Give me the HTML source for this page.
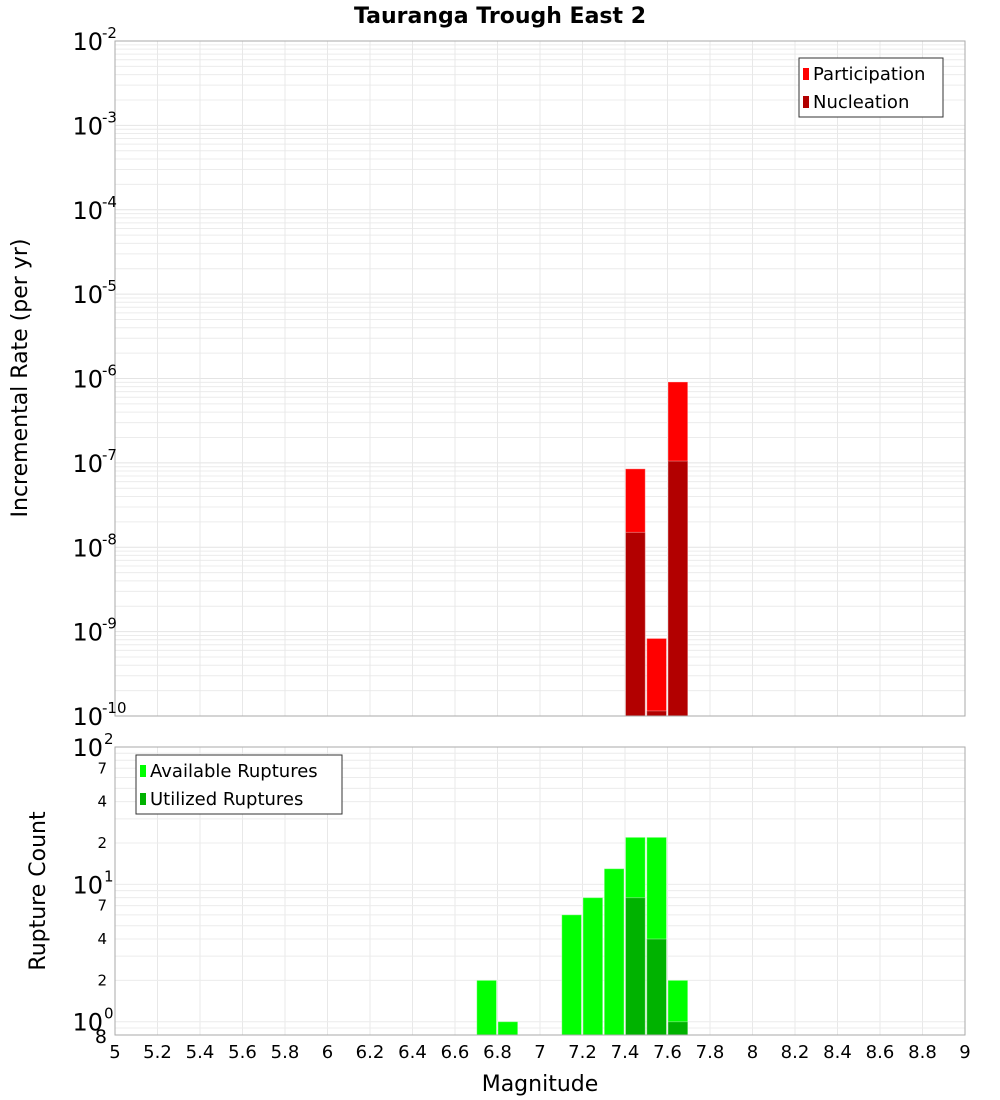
<!DOCTYPE html>
<html><head><meta charset="utf-8"><style>
html,body{margin:0;padding:0;background:#fff;}
svg{display:block;font-family:"DejaVu Sans","Liberation Sans",sans-serif;}
</style></head><body>
<svg id="c" width="1000" height="1100" xmlns="http://www.w3.org/2000/svg">
<text x="500" y="23" text-anchor="middle" font-size="22" font-weight="bold">Tauranga Trough East 2</text>
<g id="top"></g>
<g id="bot"></g>
</svg>
<script>
const mags = [7.45, 7.55, 7.65];
const participation = [8.5e-8, 8.3e-10, 9.1e-7];
const nucleation = [1.5e-8, 1.15e-10, 1.05e-7];
const countMags = [6.75, 6.85, 7.15, 7.25, 7.35, 7.45, 7.55, 7.65];
const available = [2, 1, 6, 8, 13, 22, 22, 2];
const utilMags = [7.45, 7.55, 7.65];
const utilized = [8, 4, 1];
const xTicks = [5,5.2,5.4,5.6,5.8,6,6.2,6.4,6.6,6.8,7,7.2,7.4,7.6,7.8,8,8.2,8.4,8.6,8.8,9];
const topExps = [-2,-3,-4,-5,-6,-7,-8,-9,-10];
const botMinorLabels = [[70,'7'],[40,'4'],[20,'2'],[7,'7'],[4,'4'],[2,'2']];

const NS='http://www.w3.org/2000/svg';
function mk(parent,tag,attrs,text){const e=document.createElementNS(NS,tag);for(const k in attrs)e.setAttribute(k,attrs[k]);if(text!==undefined)e.textContent=text;parent.appendChild(e);return e;}
const X0=115,X1=965;
const xs=m=>X0+(m-5)/4*(X1-X0);
const T0=41,T1=716;
const ty=v=>T1-(Math.log10(v)+10)/8*(T1-T0);
const B0=747,B1=1035;
const by=v=>B1-(Math.log10(v)-Math.log10(0.8))/(2-Math.log10(0.8))*(B1-B0);
const topG=document.getElementById('top'),botG=document.getElementById('bot');

for(let e=-10;e<-2;e++)for(let k=1;k<10;k++){const y=ty(k*Math.pow(10,e));const l=mk(topG,'line',{x1:X0,x2:X1,y1:y,y2:y,stroke:k==1?'#e4e4e4':'#ececec','stroke-width':1});

}
xTicks.forEach(t=>{[topG,botG].forEach((g,i)=>{const l=mk(g,'line',{x1:xs(t),x2:xs(t),y1:i?B0:T0,y2:i?B1:T1,stroke:'#e8e8e8','stroke-width':1});

});});
for(let e=-1;e<2;e++)for(let k=1;k<10;k++){const v=k*Math.pow(10,e);if(v<0.8)continue;const y=by(v);const l=mk(botG,'line',{x1:X0,x2:X1,y1:y,y2:y,stroke:'#ececec','stroke-width':1});

}

function bar(g,m,v,fn,base,fill,name){const x=xs(m-0.05)+0.5,w=xs(m+0.05)-xs(m-0.05)-1.5;const y=fn(v);const r=mk(g,'rect',{x:x,y:y,width:w,height:base-y,fill:fill,stroke:'rgba(255,255,255,0.35)','stroke-width':1});

}
mags.forEach((m,i)=>bar(topG,m,participation[i],ty,T1,'#ff0000','participation-bar'));
mags.forEach((m,i)=>bar(topG,m,nucleation[i],ty,T1,'#b20000','nucleation-bar'));
countMags.forEach((m,i)=>bar(botG,m,available[i],by,B1,'#00ff00','available-bar'));
utilMags.forEach((m,i)=>bar(botG,m,utilized[i],by,B1,'#00b200','utilized-bar'));

mk(topG,'rect',{x:X0,y:T0,width:X1-X0,height:T1-T0,fill:'none',stroke:'#aaa'});
mk(botG,'rect',{x:X0,y:B0,width:X1-X0,height:B1-B0,fill:'none',stroke:'#aaa'});

topExps.forEach(e=>{const y=ty(Math.pow(10,e));const t=mk(topG,'text',{x:103,y:y+9,'text-anchor':'end','font-size':24},'10');


const s=mk(topG,'text',{x:102,y:y-3,'font-size':15},String(e));

});
[[100,'2'],[10,'1'],[1,'0']].forEach(([v,ex])=>{const y=by(v);const t=mk(botG,'text',{x:103,y:y+9,'text-anchor':'end','font-size':24},'10');


const s=mk(botG,'text',{x:104,y:y-3,'font-size':15},ex);

});
botMinorLabels.forEach(([v,l])=>{const t=mk(botG,'text',{x:107,y:by(v)+5,'text-anchor':'end','font-size':15},l);

});
{const t=mk(botG,'text',{x:107,y:1043,'text-anchor':'end','font-size':19},'8');

}
xTicks.forEach(v=>{const t=mk(botG,'text',{x:xs(v),y:1058,'text-anchor':'middle','font-size':18},String(v));

});

{const t=mk(topG,'text',{x:0,y:0,'text-anchor':'middle','font-size':22,transform:'translate(27,378) rotate(-90)'},'Incremental Rate (per yr)');

}
{const t=mk(botG,'text',{x:0,y:0,'text-anchor':'middle','font-size':22,transform:'translate(45,891) rotate(-90)'},'Rupture Count');

}
{const t=mk(botG,'text',{x:540,y:1091,'text-anchor':'middle','font-size':22},'Magnitude');

}

function legend(g,x,y,w,items,name){const lg=mk(g,'g',{});


mk(lg,'rect',{x:x,y:y,width:w,height:59,fill:'#fff',stroke:'#333'});items.forEach(([c,l],i)=>{mk(lg,'rect',{x:x+4,y:y+10+i*28,width:6,height:12,fill:c});const t=mk(lg,'text',{x:x+14,y:y+22+i*28,'font-size':18},l);

});}
legend(topG,799,58,144,[['#ff0000','Participation'],['#b20000','Nucleation']],'rate-legend');
legend(botG,136,755,206,[['#00ff00','Available Ruptures'],['#00b200','Utilized Ruptures']],'count-legend');
</script>
</body></html>
